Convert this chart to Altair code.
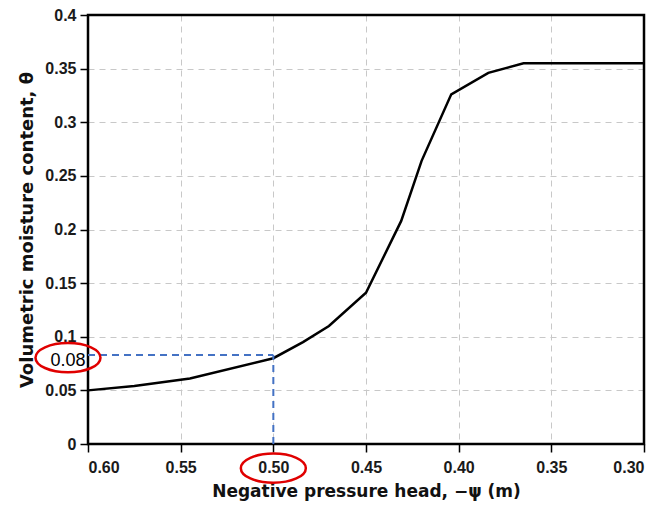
import altair as alt
import pandas as pd

# Curve
head = [0.60, 0.575, 0.545, 0.50, 0.484, 0.470, 0.450, 0.431, 0.420, 0.404, 0.384, 0.365, 0.30]
theta = [0.050, 0.054, 0.061, 0.080, 0.095, 0.110, 0.141, 0.208, 0.264, 0.326, 0.346, 0.355, 0.355]

x_ticks = [0.60, 0.55, 0.50, 0.45, 0.40, 0.35, 0.30]
y_ticks = [0, 0.05, 0.1, 0.15, 0.2, 0.25, 0.3, 0.35, 0.4]

# Annotation: reading at -psi = 0.50 m
mark_head = 0.50
mark_theta = 0.083
mark_label = "0.08"

curve = pd.DataFrame({"h": head, "t": theta})

xs = alt.Scale(domain=[0.60, 0.30], nice=False, zero=False)
ys = alt.Scale(domain=[0, 0.4], nice=False)

grid_style = dict(grid=True, gridColor="#c8c8c8", gridDash=[6, 5], gridWidth=1,
                  domain=False, ticks=True, tickColor="black", tickWidth=1.5, tickSize=8,
                  labelFont="Liberation Sans", labelFontWeight="bold", labelFontSize=16,
                  labelColor="#1a1a1a", titleFont="DejaVu Sans", titleFontWeight="bold",
                  titleColor="#111111")

line = alt.Chart(curve).mark_line(color="black", strokeWidth=2.5).encode(
    x=alt.X("h:Q", scale=xs,
            axis=alt.Axis(values=x_ticks, format=".2f", title="Negative pressure head, −ψ (m)",
                          labelPadding=7, titlePadding=8, titleFontSize=17, **grid_style)),
    y=alt.Y("t:Q", scale=ys,
            axis=alt.Axis(values=y_ticks, format="~g", title="Volumetric moisture content, θ",
                          labelPadding=4, titlePadding=8, titleFontSize=18, **grid_style)),
)

frame_df = pd.DataFrame({"x1": [x_ticks[0]], "x2": [x_ticks[-1]], "y1": [y_ticks[0]], "y2": [y_ticks[-1]]})
frame = alt.Chart(frame_df).mark_rect(fill=None, stroke="black", strokeWidth=2.5).encode(
    x=alt.X("x1:Q", scale=xs), x2="x2:Q", y=alt.Y("y1:Q", scale=ys), y2="y2:Q")

hline_df = pd.DataFrame({"x1": [x_ticks[0]], "x2": [mark_head], "y1": [mark_theta]})
vline_df = pd.DataFrame({"x1": [mark_head], "y1": [0.0], "y2": [mark_theta]})

hline = alt.Chart(hline_df).mark_rule(color="#4472C4", strokeWidth=2, strokeDash=[7, 5]).encode(
    x=alt.X("x1:Q", scale=xs), x2="x2:Q", y=alt.Y("y1:Q", scale=ys))
vline = alt.Chart(vline_df).mark_rule(color="#4472C4", strokeWidth=2, strokeDash=[7, 5]).encode(
    x=alt.X("x1:Q", scale=xs), y=alt.Y("y1:Q", scale=ys), y2="y2:Q")

ellipse_path = "M -1 0 A 1 0.45 0 1 0 1 0 A 1 0.45 0 1 0 -1 0 Z"

lab_df = pd.DataFrame({"x": [0.6108], "y": [0.0795], "txt": [mark_label]})
lab_text = alt.Chart(lab_df).mark_text(font="Liberation Sans", fontSize=18, color="black",
                                       baseline="middle", align="center", dy=2).encode(
    x=alt.X("x:Q", scale=xs), y=alt.Y("y:Q", scale=ys), text="txt:N")

ell_df = pd.DataFrame({"x": [0.6108, mark_head], "y": [0.0805, -0.0225]})
ellipses = alt.Chart(ell_df).mark_point(shape=ellipse_path, size=4225, filled=False,
                                        color="#e00000", strokeWidth=2.5, opacity=1).encode(
    x=alt.X("x:Q", scale=xs), y=alt.Y("y:Q", scale=ys))

chart = alt.layer(line, frame, hline, vline, lab_text, ellipses).properties(
    width=556, height=429,
    autosize=alt.AutoSizeParams(type="none"),
    padding={"left": 88, "top": 15, "right": 23, "bottom": 62},
    background="white",
).configure_view(stroke=None)

chart.save("out.html", embed_options={"renderer": "svg", "actions": False})
